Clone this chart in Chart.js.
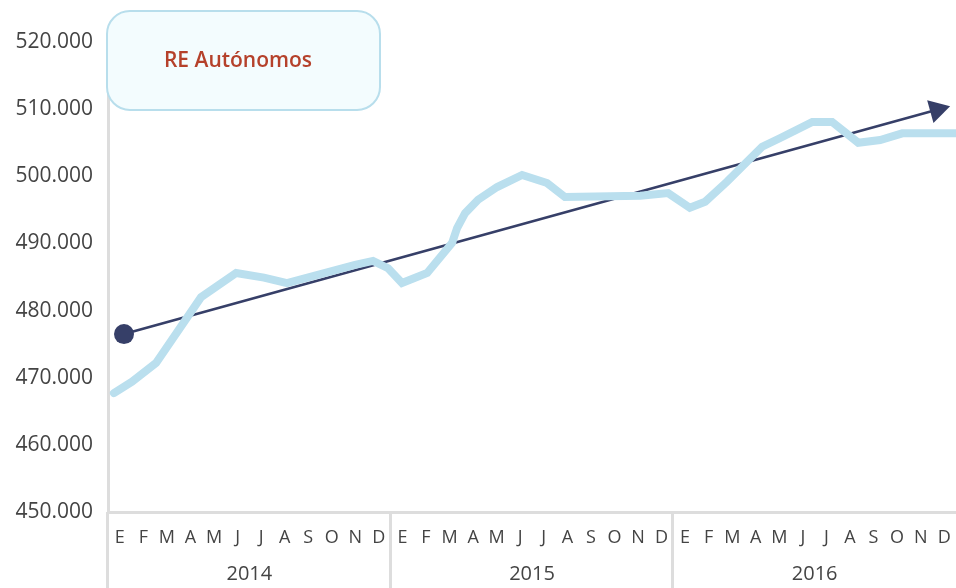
<!DOCTYPE html>
<html>
<head>
<meta charset="utf-8">
<script src="https://cdn.jsdelivr.net/npm/chart.js@4"></script>
<style>
  html, body { margin: 0; padding: 0; background: #fff; overflow: hidden; }
  #wrap { width: 956px; height: 588px; position: relative; }
  #chart { display: block; }
</style>
</head>
<body>
<div id="wrap"><canvas id="chart"></canvas></div>
<script>
'use strict';

// Meses (iniciales) y años del eje horizontal
const meses = ['E', 'F', 'M', 'A', 'M', 'J', 'J', 'A', 'S', 'O', 'N', 'D'];
const anios = ['2014', '2015', '2016'];

// Serie RE Autónomos: posición en meses desde enero 2014 y afiliados
const serieMes = [0.25, 1.02, 2.04, 3.95, 5.44, 6.62, 7.6, 8.15, 10.49, 11.25, 11.89, 12.48,
    13.55, 14.61, 14.82, 15.16, 15.71, 16.52, 17.58, 18.64, 19.4, 22.6, 23.78, 24.7,
    25.35, 26.28, 27.77, 28.54, 29.9, 30.74, 31.85, 32.78, 33.72, 36];
const serieValor = [467700, 469400, 472200, 482000, 485600, 484900, 484100, 484600, 486800, 487400, 486300, 484100,
    485600, 490100, 492300, 494500, 496500, 498400, 500200, 499000, 496900, 497100, 497500, 495300,
    496200, 499200, 504400, 505700, 508100, 508100, 505000, 505400, 506400, 506400];

// Flecha de tendencia
const tendenciaMes = [0.68, 35.19];
const tendenciaValor = [476500, 509900];

const etiquetasMes = [];
anios.forEach(function () {
    meses.forEach(function (m) { etiquetasMes.push(m); });
});

const toPoints = function (xs, ys) {
    return xs.map(function (x, i) { return {x: x, y: ys[i]}; });
};

const FONT = '"Open Sans", "Noto Sans", sans-serif';
const GRIS = '#dddddd';

const decor = {
    id: 'decor',
    afterDraw(chart) {
        const ctx = chart.ctx;
        const xl = chart.scales.xl;
        const area = chart.chartArea;

        // separadores de año
        ctx.save();
        ctx.strokeStyle = GRIS;
        ctx.lineWidth = 3;
        [0, 12, 24].forEach(function (m) {
            const px = Math.round(xl.getPixelForValue(m)) - 0.5;
            ctx.beginPath();
            ctx.moveTo(px, area.bottom);
            ctx.lineTo(px, chart.height);
            ctx.stroke();
        });

        // caja de leyenda
        ctx.beginPath();
        ctx.roundRect(107, 11, 273, 99, 23);
        ctx.fillStyle = '#f3fcfe';
        ctx.fill();
        ctx.lineWidth = 2;
        ctx.strokeStyle = '#b8deec';
        ctx.stroke();

        ctx.fillStyle = '#b5412b';
        ctx.font = '600 21px ' + FONT;
        ctx.textAlign = 'center';
        ctx.textBaseline = 'middle';
        ctx.fillText('RE Autónomos', 238, 61);
        ctx.restore();
    }
};

// sin relleno lateral: el área llega al borde derecho
const sinRelleno = function (scale, alto) {
    scale.height = alto;
    scale.paddingLeft = 0;
    scale.paddingRight = 0;
};

new Chart(document.getElementById('chart'), {
    type: 'line',
    data: {
        labels: etiquetasMes,
        datasets: [{
            label: 'RE Autónomos',
            data: toPoints(serieMes, serieValor),
            xAxisID: 'xl',
            borderColor: '#badfee',
            borderWidth: 8,
            borderJoinStyle: 'miter',
            borderCapStyle: 'round',
            pointRadius: 0,
            tension: 0,
            clip: false,
        }, {
            label: 'Tendencia',
            data: toPoints(tendenciaMes, tendenciaValor),
            xAxisID: 'xl',
            borderColor: '#363f68',
            backgroundColor: '#363f68',
            borderWidth: 2.5,
            pointStyle: ['circle', 'triangle'],
            pointRadius: [10, 13.7],
            pointRotation: [0, 74.6],
            pointBorderWidth: 0,
            clip: false,
        }]
    },
    options: {
        responsive: true,
        maintainAspectRatio: false,
        animation: false,
        layout: {
            autoPadding: false,
            padding: {top: 42, right: 0, bottom: 0, left: 0},
        },
        plugins: {
            legend: {display: false},
            tooltip: {enabled: false},
        },
        scales: {
            xl: {
                type: 'linear',
                display: false,
                min: 0,
                max: 36,
            },
            x: {
                type: 'category',
                position: 'bottom',
                weight: 1,
                offset: true,
                grid: {display: false, drawTicks: false},
                border: {display: true, color: GRIS, width: 3},
                ticks: {
                    autoSkip: false,
                    maxRotation: 0,
                    padding: 15,
                    color: '#444',
                    font: {family: FONT, size: 18},
                },
                afterFit(scale) { sinRelleno(scale, 40); },
            },
            anio: {
                type: 'category',
                position: 'bottom',
                weight: 2,
                labels: anios,
                offset: true,
                grid: {display: false, drawTicks: false},
                border: {display: false},
                ticks: {
                    padding: 10,
                    color: '#444',
                    font: {family: FONT, size: 20},
                },
                afterFit(scale) { sinRelleno(scale, 36); },
            },
            y: {
                min: 450000,
                max: 520000,
                grid: {display: false, drawTicks: false},
                border: {display: true, color: GRIS, width: 3},
                ticks: {
                    stepSize: 10000,
                    padding: 15,
                    color: '#444',
                    font: {family: FONT, size: 21},
                    callback: function (v) {
                        return String(v).replace(/\B(?=(\d{3})+(?!\d))/g, '.');
                    },
                },
                afterFit(scale) { scale.width = 108; },
            },
        },
    },
    plugins: [decor],
});
</script>
</body>
</html>
